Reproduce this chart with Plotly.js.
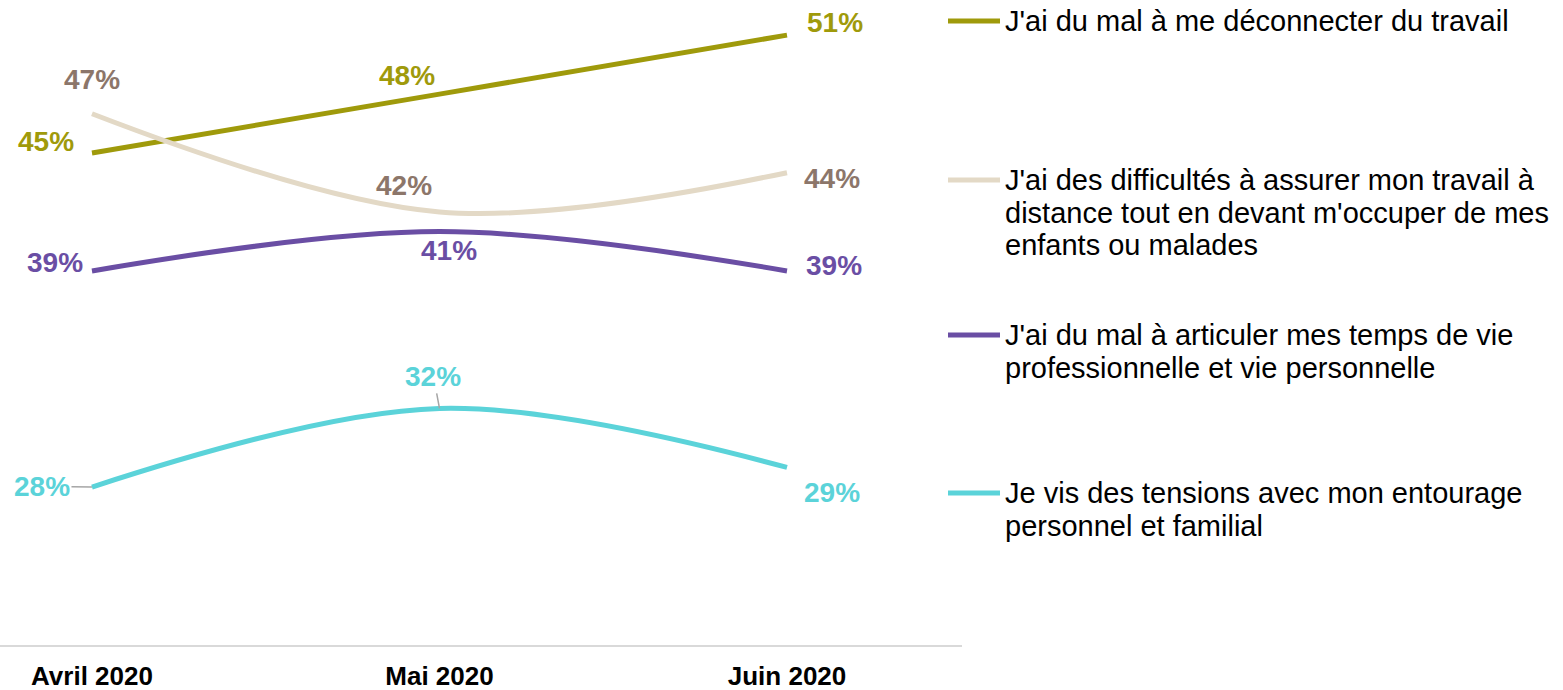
<!DOCTYPE html>
<html>
<head>
<meta charset="utf-8">
<script src="https://cdn.plot.ly/plotly-3.0.1.min.js"></script>
<style>
  html, body { margin: 0; padding: 0; background: #fff; }
  #chart { width: 1563px; height: 690px; }
</style>
</head>
<body>
<div id="chart"></div>
<script>
// months on the x axis
var months = ['Avril 2020', 'Mai 2020', 'Juin 2020'];

// one array per series, values in %
var deconnecter = [45, 48, 51];
var difficultes = [47, 42, 44];
var articuler = [39, 41, 39];
var tensions = [28, 32, 29];

var seriesNames = [
  "J'ai du mal à me déconnecter du travail",
  "J'ai des difficultés à assurer mon travail à<br>distance tout en devant m'occuper de mes<br>enfants ou malades",
  "J'ai du mal à articuler mes temps de vie<br>professionnelle et vie personnelle",
  "Je vis des tensions avec mon entourage<br>personnel et familial"
];

var seriesValues = [deconnecter, difficultes, articuler, tensions];
var lineColors = ['#9f9a0b', '#e3d9c6', '#6a4ea4', '#5bd3d9'];
var labelColors = ['#9f9a0b', '#8c766a', '#6a4ea4', '#5bd3d9'];

// label offsets in px [dx, dy] for each point (styling only)
var labelShift = [
  [[-46, 12], [-32, 19], [48, 13]],
  [[0, 34], [-35, 26], [45, -6]],
  [[-37, 8], [10, -19], [47, 5]],
  [[-50, 1], [-6, 32], [45, -25]]
];
// which labels get a small grey leader line
var leader = [
  [false, false, false],
  [false, false, false],
  [false, false, false],
  [true, true, false]
];

// legend placement (pixels in the page)
var legendTop = [21, 180, 335, 493];
var legendLineGap = 32.5;

var W = 1563, H = 690;
var plotL = 0, plotR = 962, plotT = 10, plotB = 645;

function px2paperX(px) { return (px - plotL) / (plotR - plotL); }
function px2paperY(py) { return 1 - (py - plotT) / (plotB - plotT); }

var traces = [];
var annotations = [];
var shapes = [];

for (var s = 0; s < seriesValues.length; s++) {
  traces.push({
    x: months,
    y: seriesValues[s],
    name: seriesNames[s],
    type: 'scatter',
    mode: 'lines',
    line: { color: lineColors[s], width: 5, shape: 'spline' },
    hoverinfo: 'skip',
    showlegend: false
  });

  for (var i = 0; i < months.length; i++) {
    var sh = labelShift[s][i];
    var a = {
      x: months[i],
      y: seriesValues[s][i],
      xref: 'x',
      yref: 'y',
      text: '<b>' + seriesValues[s][i] + '%</b>',
      font: { family: 'Liberation Sans, Arial, sans-serif', size: 28, color: labelColors[s] }
    };
    if (leader[s][i]) {
      a.showarrow = true;
      a.arrowhead = 0;
      a.arrowwidth = 1.5;
      a.arrowcolor = '#a6a6a6';
      a.ax = sh[0];
      a.ay = -sh[1];
    } else {
      a.showarrow = false;
      a.xshift = sh[0];
      a.yshift = sh[1];
    }
    annotations.push(a);
  }

  // legend: line sample + text lines
  var lines = seriesNames[s].split('<br>');
  shapes.push({
    type: 'line',
    xref: 'paper', yref: 'paper',
    x0: px2paperX(948), x1: px2paperX(1000),
    y0: px2paperY(legendTop[s]), y1: px2paperY(legendTop[s]),
    line: { color: lineColors[s], width: 5 }
  });
  for (var k = 0; k < lines.length; k++) {
    annotations.push({
      xref: 'paper', yref: 'paper',
      x: px2paperX(1003),
      y: px2paperY(legendTop[s] + k * legendLineGap),
      xanchor: 'left', yanchor: 'middle',
      showarrow: false,
      text: lines[k],
      font: { family: 'Liberation Sans, Arial, sans-serif', size: 29, color: '#000' }
    });
  }
}

var layout = {
  width: W,
  height: H,
  margin: { l: plotL, r: W - plotR, t: plotT, b: H - plotB },
  paper_bgcolor: '#fff',
  plot_bgcolor: '#fff',
  showlegend: false,
  xaxis: {
    type: 'category',
    range: [-0.2647, 2.5036],
    showline: true,
    linecolor: '#d9d9d9',
    linewidth: 2,
    showgrid: false,
    zeroline: false,
    ticks: '',
    tickfont: { family: 'Liberation Sans, Arial, sans-serif', size: 26, color: '#000', weight: 'bold' },
    ticklabelstandoff: 7
  },
  yaxis: {
    range: [19.96, 52.28],
    showgrid: false,
    zeroline: false,
    showline: false,
    showticklabels: false,
    ticks: ''
  },
  annotations: annotations,
  shapes: shapes
};

Plotly.newPlot('chart', traces, layout, { displayModeBar: false, staticPlot: true });
</script>
</body>
</html>
